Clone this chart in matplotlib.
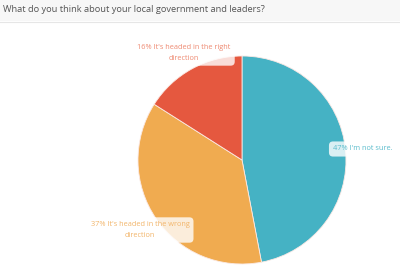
import matplotlib
matplotlib.use("Agg")
import matplotlib.pyplot as plt
from matplotlib.patches import Rectangle

title = "What do you think about your local government and leaders?"
answers = ["I'm not sure.", "It's headed in the wrong\ndirection",
           "It's headed in the right\ndirection"]
shares = [47, 37, 16]
colors = ["#45b2c4", "#f0ab50", "#e5583f"]
text_colors = ["#5bbccc", "#f2b56a", "#ee8a72"]

W, H = 400, 268
fig = plt.figure(figsize=(W / 100, H / 100), dpi=100)

# title band
fig.patches.append(Rectangle((0, 1 - 21 / H), 1, 21 / H, transform=fig.transFigure,
                             facecolor="#f7f7f7", edgecolor="none", zorder=0))
fig.add_artist(plt.Line2D([0, 1], [1 - 21.5 / H] * 2, color="#e6e6e6", lw=0.8))
fig.text(3 / W, 1 - 10 / H, title, fontsize=6.7, family="Open Sans",
         color="#555555", va="center", ha="left")

cx, cy, r = 242, 160, 104
ax = fig.add_axes([(cx - r) / W, (H - cy - r) / H, 2 * r / W, 2 * r / H])
ax.pie(shares, colors=colors, startangle=90, counterclock=False, radius=1,
       wedgeprops=dict(edgecolor="#fbe9e4", linewidth=0.6))
ax.set_xlim(-1, 1)
ax.set_ylim(-1, 1)
ax.set_aspect("auto")
ax.axis("off")

# label positions in pixels (x, y from top) and alignment
label_pos = [(333, 149, "left"), (140, 230, "center"), (184, 53, "center")]
for (x, y, ha), s, a, tc in zip(label_pos, shares, answers, text_colors):
    fig.text(x / W, 1 - y / H, f"{s}% {a}", fontsize=5.3, family="Open Sans",
             color=tc, ha=ha, va="center", multialignment="center",
             linespacing=1.65,
             bbox=dict(boxstyle="round,pad=0.55", facecolor="white",
                       edgecolor="none", alpha=0.8))

fig.savefig("out.png", dpi=100)
